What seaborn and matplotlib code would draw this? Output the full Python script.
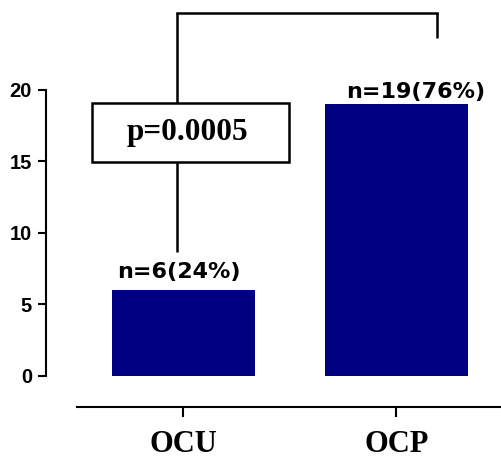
import matplotlib
matplotlib.use("Agg")
import matplotlib.pyplot as plt
from matplotlib.patches import Rectangle
import seaborn as sns
import pandas as pd

categories = ["OCU", "OCP"]
counts = [6, 19]
count_labels = ["n=6(24%)", "n=19(76%)"]
p_label = "p=0.0005"
yticks = [0, 5, 10, 15, 20]

sns.set_style("ticks")
plt.rcParams["font.family"] = ["Liberation Sans", "DejaVu Sans"]
plt.rcParams["text.color"] = "black"
plt.rcParams["axes.edgecolor"] = "black"
plt.rcParams["xtick.color"] = "black"
plt.rcParams["ytick.color"] = "black"
plt.rcParams["xtick.labelcolor"] = "black"
plt.rcParams["ytick.labelcolor"] = "black"

df = pd.DataFrame({"group": categories, "n": counts})

fig = plt.figure(figsize=(5.02, 4.59), dpi=100)
W, H = 502, 459
ax = fig.add_axes([46 / W, (H - 407) / H, (W - 46) / W, 407 / H])

sns.barplot(data=df, x="group", y="n", order=categories, color="#000080",
            saturation=1, width=0.67, ax=ax, linewidth=0)

ax.set_xlim(-0.6455, 1.4953)
ax.set_ylim(-2.168, 26.29)

# spines
for s in ["top", "right"]:
    ax.spines[s].set_visible(False)
ax.spines["left"].set_bounds(0, 20)
ax.spines["bottom"].set_bounds(-0.5, 1.5)
ax.spines["left"].set_linewidth(1.5)
ax.spines["bottom"].set_linewidth(1.5)

ax.tick_params(axis="y", length=6, width=1.5, pad=4, direction="out",
               colors="black")
ax.tick_params(axis="x", length=7.2, width=1.5, pad=9.5, direction="out",
               colors="black")
ax.set_yticks(yticks)
ax.set_yticklabels([str(t) for t in yticks])
ax.set_xticks(range(len(categories)))
ax.set_xticklabels(categories)
for t in ax.get_yticklabels():
    t.set_fontsize(14.5)
    t.set_fontweight("bold")
    t.set_family("Liberation Sans")
    t.set_color("black")
for t in ax.get_xticklabels():
    t.set_fontsize(22)
    t.set_fontweight("bold")
    t.set_family("Liberation Serif")
    t.set_color("black")
ax.set_xlabel("")
ax.set_ylabel("")

# count labels above bars
label_pos = [(-0.021, 6.85), (1.09, 19.44)]
for (lx, ly), txt in zip(label_pos, count_labels):
    ax.text(lx, ly, txt, ha="center", va="baseline", fontsize=16,
            fontweight="bold", family="DejaVu Sans", color="black")

# significance bracket
lw = 1.8
ax.plot([-0.0305, -0.0305], [25.35, 19.09], color="black", lw=lw, clip_on=False,
        solid_capstyle="butt")
ax.plot([-0.0305, -0.0305], [14.97, 8.67], color="black", lw=lw, clip_on=False,
        solid_capstyle="butt")
ax.plot([-0.0305, 1.19], [25.35, 25.35], color="black", lw=lw, clip_on=False,
        solid_capstyle="projecting")
ax.plot([1.19, 1.19], [25.35, 23.64], color="black", lw=lw, clip_on=False,
        solid_capstyle="butt")
ax.add_patch(Rectangle((-0.43, 14.97), 0.925, 4.12, facecolor="white",
                       edgecolor="black", lw=lw, clip_on=False))
ax.text(0.019, 17.03, p_label, ha="center", va="center", fontsize=22.5,
        fontweight="bold", family="Liberation Serif", color="black")

fig.savefig("out.png", dpi=100)
